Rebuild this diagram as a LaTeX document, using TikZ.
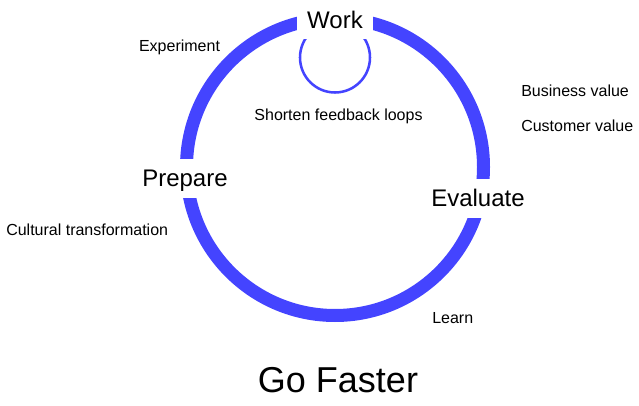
\documentclass[tikz,border=0pt]{standalone}
\usepackage{fontspec}
\setmainfont{Liberation Sans}
\usepackage{xcolor}
\usepackage{tikz}
\usetikzlibrary{positioning}

\definecolor{loopblue}{RGB}{68,68,255}

\begin{document}
\begin{tikzpicture}[
  x=0.75pt, y=-0.75pt,
  phase/.style={fill=white, font=\fontsize{18}{20}\selectfont,
                inner xsep=8pt, text height=12.9pt, text depth=0pt,
                minimum height=29pt},
  note/.style={font=\fontsize{12}{14}\selectfont, inner sep=0pt},
  title/.style={font=\fontsize{27}{30}\selectfont, inner sep=0pt},
  ring/.style={draw=loopblue, line width=9.75pt},
  innerloop/.style={draw=loopblue, line width=1.9pt}
]
  \useasboundingbox (0,0) rectangle (639,406);

  %--- Main cycle ---
  \draw[ring] (335,167) circle (148.5);
  \draw[innerloop] (335,57.5) circle (35);

  %--- Phases ---
  \node[phase] (work)     at (335,19.7)  {Work};
  \node[phase] (prepare)  at (185,178.4) {Prepare};
  \node[phase] (evaluate) at (478,198.2) {Evaluate};

  %--- Notes ---
  \node[note] (experiment) at (179.5,47)  {Experiment};
  \node[note] (shorten)    at (338.5,116) {Shorten feedback loops};
  \node[note, anchor=west] (business) at (521,91)  {Business value};
  \node[note, anchor=west] (customer) at (521,126) {Customer value};
  \node[note, anchor=west] (cultural) at (6,230)   {Cultural transformation};
  \node[note, anchor=west] (learn)    at (432,318) {Learn};

  % Title
  \node[title] (faster) at (338,380) {Go Faster};

\end{tikzpicture}
\end{document}
